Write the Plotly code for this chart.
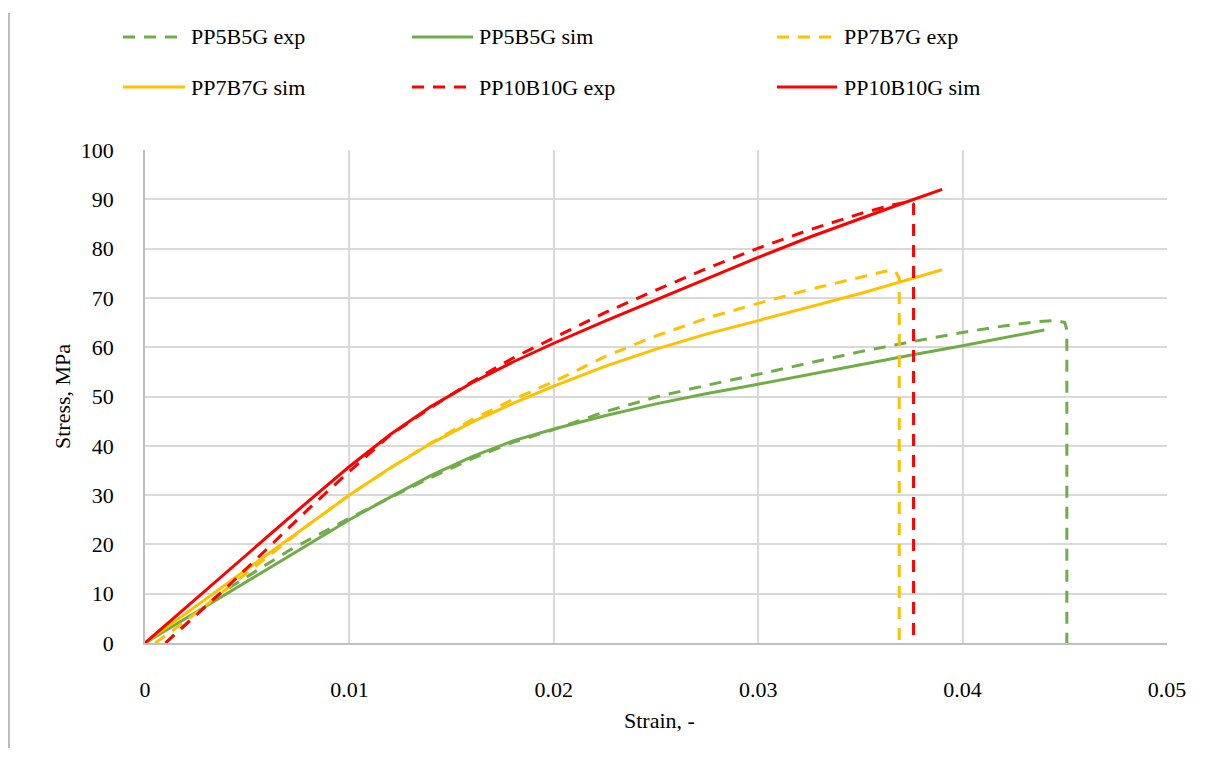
import plotly.graph_objects as go

# ---- data ----
pp5_exp_strain = [0.001, 0.002, 0.0037, 0.0055, 0.0071, 0.0085, 0.010, 0.012, 0.014, 0.016, 0.018, 0.020, 0.0225, 0.025,
                  0.0275, 0.030, 0.0325, 0.035, 0.0375, 0.040, 0.042, 0.0437, 0.0446, 0.0450, 0.0451, 0.0451]
pp5_exp_stress = [0.0, 3.9, 10.1, 14.8, 18.9, 22.0, 25.3, 29.5, 33.6, 37.4, 40.7, 43.3, 46.9, 49.9,
                  52.3, 54.5, 56.8, 59.1, 61.1, 63.0, 64.3, 65.2, 65.4, 65.0, 63.5, 0.0]
pp5_sim_strain = [0.0, 0.002, 0.004, 0.006, 0.008, 0.010, 0.012, 0.014, 0.016, 0.018, 0.020, 0.0225, 0.025,
                  0.0275, 0.030, 0.0325, 0.035, 0.0375, 0.040, 0.042, 0.044]
pp5_sim_stress = [0.0, 5.0, 10.0, 15.0, 20.0, 25.0, 29.6, 34.0, 37.8, 41.0, 43.4, 46.1, 48.5,
                  50.6, 52.5, 54.5, 56.5, 58.4, 60.3, 61.9, 63.5]

pp7_exp_strain = [0.0005, 0.002, 0.004, 0.006, 0.008, 0.010, 0.012, 0.014, 0.016, 0.018, 0.020, 0.0225, 0.025,
                  0.0275, 0.030, 0.0325, 0.035, 0.0362, 0.0367, 0.0369, 0.0369]
pp7_exp_stress = [0.0, 4.5, 11.0, 17.5, 24.0, 30.0, 35.5, 40.6, 45.3, 49.4, 53.0, 58.1, 62.3,
                  65.9, 68.9, 71.7, 74.2, 75.4, 75.5, 74.0, 0.0]
pp7_sim_strain = [0.0, 0.002, 0.004, 0.006, 0.008, 0.010, 0.012, 0.014, 0.016, 0.018, 0.020, 0.0225, 0.025,
                  0.0275, 0.030, 0.0325, 0.035, 0.037, 0.039]
pp7_sim_stress = [0.0, 6.0, 12.0, 18.0, 24.0, 30.0, 35.5, 40.5, 44.8, 48.6, 52.1, 56.1, 59.6,
                  62.7, 65.4, 68.2, 70.9, 73.3, 75.7]

pp10_exp_strain = [0.001, 0.002, 0.003, 0.004, 0.006, 0.008, 0.010, 0.012, 0.014, 0.016, 0.018, 0.020, 0.0225, 0.025,
                   0.0275, 0.030, 0.0325, 0.035, 0.0365, 0.0374, 0.0376, 0.0376]
pp10_exp_stress = [0.0, 3.8, 7.5, 11.3, 19.2, 27.2, 34.8, 42.2, 47.8, 53.0, 57.8, 61.9, 67.0, 71.6,
                   76.0, 80.1, 83.8, 87.1, 88.8, 89.5, 89.0, 0.0]
pp10_sim_strain = [0.0, 0.002, 0.004, 0.006, 0.008, 0.010, 0.012, 0.014, 0.016, 0.018, 0.020, 0.0225, 0.025,
                   0.0275, 0.030, 0.0325, 0.035, 0.037, 0.039]
pp10_sim_stress = [0.0, 7.2, 14.4, 21.6, 28.8, 35.8, 42.3, 48.0, 52.8, 57.0, 60.8, 65.3, 69.6,
                   74.0, 78.2, 82.3, 86.1, 89.1, 92.0]

series_names = ["PP5B5G exp", "PP5B5G sim", "PP7B7G exp", "PP7B7G sim", "PP10B10G exp", "PP10B10G sim"]
GREEN, YELLOW, RED = "#70AD47", "#FFC000", "#FF0000"

series = [
    (pp5_exp_strain, pp5_exp_stress, GREEN, True),
    (pp5_sim_strain, pp5_sim_stress, GREEN, False),
    (pp7_exp_strain, pp7_exp_stress, YELLOW, True),
    (pp7_sim_strain, pp7_sim_stress, YELLOW, False),
    (pp10_exp_strain, pp10_exp_stress, RED, True),
    (pp10_sim_strain, pp10_sim_stress, RED, False),
]

W, H = 1205, 761
L, R, T, B = 145, 38, 150, 118
PW, PH = W - L - R, H - T - B
DASH = "12px,9px"
FONT = "Liberation Serif"
FS = 22

def px(x):
    return (x - L) / PW

def py(y):
    return (H - B - y) / PH

fig = go.Figure()
for (xs, ys, col, dashed), name in zip(series, series_names):
    fig.add_trace(go.Scatter(
        x=xs, y=ys, mode="lines", name=name, showlegend=False,
        line=dict(color=col, width=3, dash=DASH if dashed else "solid", shape="linear"),
    ))

shapes = []
annotations = []
# manual legend (2 rows x 3 columns)
legend_cols = [(123, 185, 189), (412, 473, 477), (777, 837, 842)]
legend_rows = [37, 87]
for i, ((xs, ys, col, dashed), name) in enumerate(zip(series, series_names)):
    r, c = divmod(i, 3)
    x0, x1, xt = legend_cols[c]
    yy = legend_rows[r]
    shapes.append(dict(type="line", xref="paper", yref="paper",
                       x0=px(x0), x1=px(x1), y0=py(yy), y1=py(yy),
                       line=dict(color=col, width=3, dash=DASH if dashed else "solid")))
    annotations.append(dict(xref="paper", yref="paper", x=px(xt), y=py(yy),
                            text=name, showarrow=False, xanchor="left", yanchor="middle",
                            font=dict(family=FONT, size=FS, color="#000000")))

# outer border line at left
shapes.append(dict(type="line", xref="paper", yref="paper",
                   x0=px(9), x1=px(9), y0=py(13), y1=py(748),
                   line=dict(color="#a6a6a6", width=1.5)))

# axis titles
annotations.append(dict(xref="paper", yref="paper", x=px(659), y=py(720),
                        text="Strain, -", showarrow=False, xanchor="center", yanchor="middle",
                        font=dict(family=FONT, size=FS, color="#000000")))
annotations.append(dict(xref="paper", yref="paper", x=px(62), y=py(397),
                        text="Stress, MPa", showarrow=False, textangle=-90,
                        xanchor="center", yanchor="middle",
                        font=dict(family=FONT, size=FS, color="#000000")))

fig.update_layout(
    width=W, height=H,
    margin=dict(l=L, r=R, t=T, b=B),
    paper_bgcolor="white", plot_bgcolor="white",
    shapes=shapes, annotations=annotations,
    font=dict(family=FONT, size=FS, color="#000000"),
)
fig.update_xaxes(range=[0, 0.05], tickvals=[0, 0.01, 0.02, 0.03, 0.04, 0.05],
                 ticktext=["0", "0.01", "0.02", "0.03", "0.04", "0.05"],
                 showgrid=True, gridcolor="#d9d9d9", gridwidth=1.5,
                 showline=True, linecolor="#bfbfbf", linewidth=1.5,
                 zeroline=False, ticks="", ticklabelstandoff=26,
                 tickfont=dict(family=FONT, size=FS, color="#000000"))
fig.update_yaxes(range=[0, 100], tick0=0, dtick=10,
                 showgrid=True, gridcolor="#d9d9d9", gridwidth=1.5,
                 showline=True, linecolor="#bfbfbf", linewidth=1.5,
                 zeroline=False, ticks="", ticklabelstandoff=25,
                 tickfont=dict(family=FONT, size=FS, color="#000000"))

fig.write_html("out.html")
